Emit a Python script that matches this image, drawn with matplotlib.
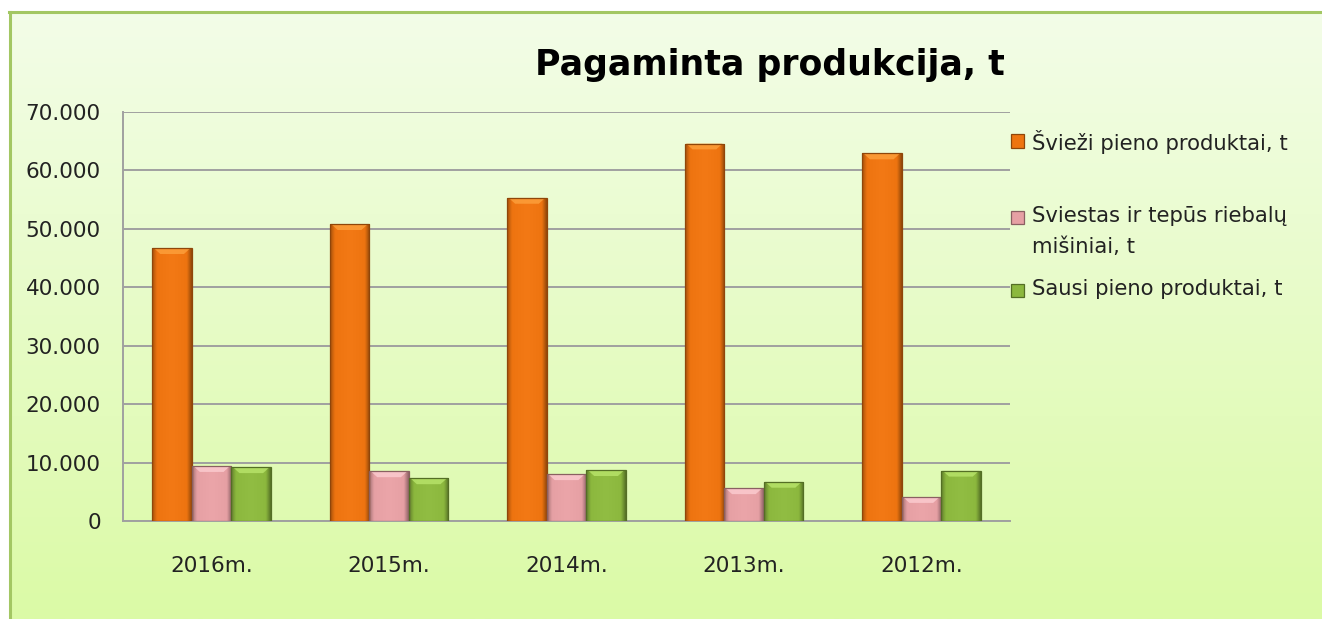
import numpy as np
import matplotlib
matplotlib.use("Agg")
import matplotlib.pyplot as plt
from matplotlib.colors import LinearSegmentedColormap, to_rgb
from matplotlib.patches import Rectangle
from matplotlib.ticker import FuncFormatter, MultipleLocator

years = ["2016m.", "2015m.", "2014m.", "2013m.", "2012m."]
series_names = ["Švieži pieno produktai, t",
                "Sviestas ir tepūs riebalų\nmišiniai, t",
                "Sausi pieno produktai, t"]
fresh = [46700, 50800, 55300, 64600, 62900]
butter = [9400, 8500, 8000, 5600, 4100]
dry = [9200, 7300, 8700, 6700, 8600]
colors = ["#ee7410", "#e6a0a4", "#8cb83e"]
title = "Pagaminta produkcija, t"

plt.rcParams['font.family'] = ['DejaVu Sans']

W, H = 1322, 619
fig = plt.figure(figsize=(W / 100, H / 100), dpi=100)
fig.patch.set_facecolor("white")

# background frame with vertical gradient
bg = fig.add_axes([9 / W, 0, 1 - 9 / W, 1 - 11 / H])
bg.set_axis_off()
grad = np.linspace(0, 1, 256).reshape(-1, 1)
top_c = np.array(to_rgb("#f3fde8"))
bot_c = np.array(to_rgb("#dbfaa6"))
img = top_c[None, None, :] * (1 - grad[:, :, None]) + bot_c[None, None, :] * grad[:, :, None]
bg.imshow(img, aspect="auto", extent=[0, 1, 0, 1], origin="upper")
bg.set_xlim(0, 1)
bg.set_ylim(0, 1)
bg.plot([0.001, 0.001], [0, 0.999], color="#a3c763", lw=2.2, transform=bg.transAxes, clip_on=False)
bg.plot([0.0, 1.0], [0.998, 0.998], color="#a3c763", lw=2.2, transform=bg.transAxes, clip_on=False)

ax = fig.add_axes([123 / W, (H - 521) / H, (1010 - 123) / W, (521 - 112) / H])
ax.set_facecolor("none")
x = np.arange(len(years))
bw = 0.223
all_series = [fresh, butter, dry]
bars_all = []
for i, (vals, col) in enumerate(zip(all_series, colors)):
    bars = ax.bar(x + (i - 1) * bw, vals, width=bw, color=col,
                  edgecolor="none", zorder=3, label=series_names[i])
    bars_all.append((bars, col))

def shade(col):
    c = np.array(to_rgb(col))
    return LinearSegmentedColormap.from_list(
        "s", [(0, c * 0.7), (0.12, c), (0.5, np.clip(c + 0.02, 0, 1)), (0.88, c), (1, c * 0.62)])

for bars, col in bars_all:
    cmap = shade(col)
    c = np.array(to_rgb(col))
    for b in bars:
        x0, y0 = b.get_x(), b.get_y()
        w, h = b.get_width(), b.get_height()
        im = ax.imshow(np.linspace(0, 1, 64).reshape(1, -1), cmap=cmap, aspect="auto",
                       extent=[x0, x0 + w, y0, y0 + h], zorder=3.5, interpolation="bicubic")
        im.set_clip_path(b)
        cap = min(1000, h * 0.5)
        lc = np.clip(c + 0.2, 0, 1)
        ax.fill([x0 + w * 0.04, x0 + w * 0.96, x0 + w * 0.8, x0 + w * 0.2],
                [y0 + h, y0 + h, y0 + h - cap, y0 + h - cap],
                color=lc, alpha=0.7, lw=0, zorder=4)
        ax.add_patch(Rectangle((x0, y0), w, h, fill=False, ec=c * 0.6, lw=0.9, zorder=4.5))

ax.set_xlim(-0.5, len(years) - 0.5)
ax.set_ylim(0, 70000)
ax.yaxis.set_major_locator(MultipleLocator(10000))
ax.yaxis.set_major_formatter(FuncFormatter(lambda v, p: "0" if v == 0 else f"{v:,.0f}".replace(",", ".")))
ax.set_xticks(x)
ax.set_xticklabels(years)
ax.grid(axis="y", color="#a0a0a0", lw=1.4, zorder=1)
for s in ["top", "right"]:
    ax.spines[s].set_visible(False)
for s in ["left", "bottom"]:
    ax.spines[s].set_color("#a0a0a0")
    ax.spines[s].set_linewidth(1.4)
ax.tick_params(axis="y", length=0, labelsize=15.5, pad=16, labelcolor="#222222")
ax.tick_params(axis="x", length=0, labelsize=15.5, pad=25, labelcolor="#222222")

fig.text(770 / W, 1 - 65 / H, title, fontsize=25, fontweight="bold", ha="center", va="center", color="black")

# legend drawn by hand: square marker aligned with first text line
leg_rows = [141, 217, 290]
for name, col, yy in zip(series_names, colors, leg_rows):
    c = np.array(to_rgb(col))
    fig.patches.append(Rectangle((1011 / W, 1 - (yy + 6.5) / H), 13 / W, 13 / H,
                                 transform=fig.transFigure, fc=col, ec=c * 0.6, lw=0.9))
    fig.text(1032 / W, 1 - (yy - 11) / H, name, fontsize=15.2, ha="left", va="top",
             color="#222222", linespacing=1.7)

fig.savefig("out.png", dpi=100)
